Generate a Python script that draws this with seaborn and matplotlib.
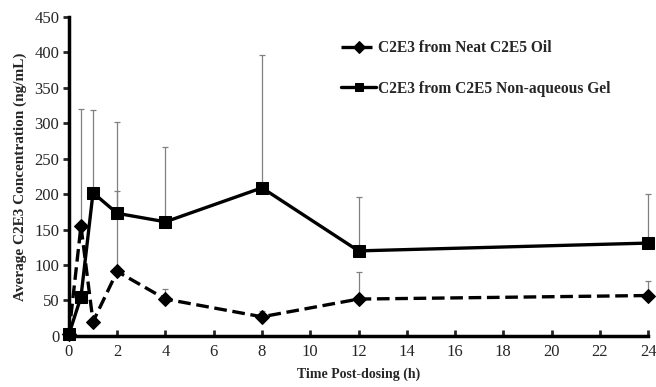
import numpy as np
import pandas as pd
import matplotlib
matplotlib.use("Agg")
import matplotlib.pyplot as plt
import seaborn as sns

# values
time_h = [0, 0.5, 1, 2, 4, 8, 12, 24]
oil_mean = [2, 155, 20, 91, 52, 27, 52, 57]
oil_err = [0, 165, 0, 114, 14, 8, 38, 21]
gel_mean = [2, 55, 202, 173, 161, 209, 120, 131]
gel_err = [0, 0, 117, 129, 105, 187, 76, 69]
labels = ["C2E3 from Neat C2E5 Oil", "C2E3 from C2E5 Non-aqueous Gel"]

sns.set_style("white")
plt.rcParams['font.family'] = ['Liberation Serif', 'DejaVu Serif']

fig = plt.figure(figsize=(6.56, 3.87), dpi=100)
ax = fig.add_axes([0.105, 0.132, 0.883, 0.824])

# one-sided grey error bars
for m, e in [(oil_mean, oil_err), (gel_mean, gel_err)]:
    eb = ax.errorbar(time_h, m, yerr=[np.zeros(len(e)), e], fmt='none',
                     ecolor='#808080', elinewidth=0.9, capsize=2.5, capthick=0.9, zorder=1)
    for art in eb.lines[1] + eb.lines[2]:
        art.set_clip_on(False)

df_oil = pd.DataFrame({"t": time_h, "c": oil_mean})
df_gel = pd.DataFrame({"t": time_h, "c": gel_mean})
sns.lineplot(data=df_oil, x="t", y="c", ax=ax, color='black', linestyle='--', linewidth=2.4,
             marker='D', markersize=7.5, markeredgecolor='black', label=labels[0], zorder=3)
ax.lines[-1].set_dashes([3.8, 1.7])
sns.lineplot(data=df_gel, x="t", y="c", ax=ax, color='black', linewidth=2.4,
             marker='s', markersize=9, markeredgecolor='black', label=labels[1], zorder=3)
for ln in ax.lines:
    ln.set_clip_on(False)

ax.set_xlim(0, 24)
ax.set_ylim(0, 450)
ax.set_xticks(np.arange(0, 25, 2))
ax.set_yticks(np.arange(0, 451, 50))
ax.set_xlabel("Time Post-dosing (h)", fontsize=10, fontweight='bold', labelpad=5)
ax.set_ylabel("Average C2E3 Concentration (ng/mL)", fontsize=11, fontweight='bold', labelpad=5)

for s in ['top', 'right']:
    ax.spines[s].set_visible(False)
for s in ['left', 'bottom']:
    ax.spines[s].set_linewidth(2.5)
    ax.spines[s].set_color('black')
ax.tick_params(axis='x', direction='in', length=4, width=2, labelsize=12, pad=6, bottom=True)
ax.tick_params(axis='y', direction='out', length=4, width=2, labelsize=12, pad=3, left=True)

leg = ax.legend(loc='upper left', bbox_to_anchor=(0.445, 0.972), frameon=False,
                prop={'weight': 'bold', 'size': 11.2}, labelspacing=1.6,
                handlelength=2.3, handletextpad=0.1)
for h in leg.legend_handles:
    h.set_markersize(6)

fig.savefig("out.png", dpi=100)
